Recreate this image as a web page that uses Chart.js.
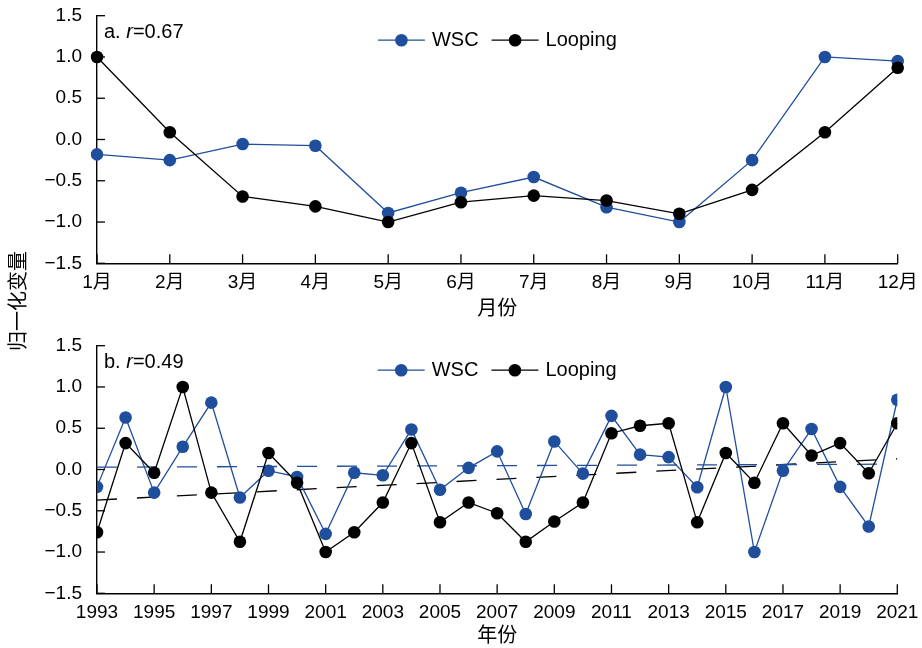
<!DOCTYPE html>
<html>
<head>
<meta charset="utf-8">
<script src="https://cdn.jsdelivr.net/npm/chart.js@4"></script>
<style>
  html, body { margin: 0; padding: 0; background: #fff; }
  #wrap { position: relative; width: 922px; height: 648px; overflow: hidden; }
  #top, #bottom { position: absolute; left: 0; }
  #top { top: 0; }
  #bottom { top: 324px; }
  #ylab {
    position: absolute; left: -42px; top: 289px; width: 120px; height: 24px;
    line-height: 24px; text-align: center; font-size: 20px; color: #000;
    font-family: "Liberation Sans", "Noto Sans CJK SC", sans-serif;
    transform: rotate(-90deg);
  }
</style>
</head>
<body>
<div id="wrap">
  <canvas id="top" width="922" height="324"></canvas>
  <canvas id="bottom" width="922" height="324"></canvas>
  <div id="ylab">归一化变量</div>
</div>
<script>
// panel a: monthly
const months = ['1月', '2月', '3月', '4月', '5月', '6月', '7月', '8月', '9月', '10月', '11月', '12月'];
const wscMonthly = [-0.18, -0.25, -0.055, -0.075, -0.89, -0.645, -0.455, -0.82, -1.0, -0.25, 1.0, 0.95];
const loopingMonthly = [1.0, 0.087, -0.69, -0.81, -1.0, -0.76, -0.68, -0.74, -0.9, -0.61, 0.087, 0.87];

// panel b: yearly
const years = [1993, 1994, 1995, 1996, 1997, 1998, 1999, 2000, 2001, 2002, 2003, 2004, 2005, 2006, 2007,
  2008, 2009, 2010, 2011, 2012, 2013, 2014, 2015, 2016, 2017, 2018, 2019, 2020, 2021];
const wscYearly = [-0.21, 0.63, -0.28, 0.275, 0.81, -0.34, -0.015, -0.09, -0.78, -0.04, -0.07, 0.485, -0.245, 0.02, 0.22,
  -0.54, 0.34, -0.05, 0.65, 0.18, 0.15, -0.215, 1.0, -1.0, -0.015, 0.49, -0.21, -0.69, 0.845];
const loopingYearly = [-0.76, 0.32, -0.04, 1.0, -0.28, -0.876, 0.2, -0.16, -1.0, -0.76, -0.4, 0.32, -0.64, -0.4, -0.53,
  -0.876, -0.63, -0.4, 0.44, 0.53, 0.56, -0.64, 0.2, -0.16, 0.56, 0.17, 0.32, -0.045, 0.56];

// linear trends (end points)
const trendYears = [1993, 2021];
const wscTrend = [0.028, 0.065];
const loopingTrend = [-0.37, 0.13];

const BLUE = '#1f4e9c';
const BLACK = '#000000';
const FONT = '"Liberation Sans", "Noto Sans CJK SC", sans-serif';

Chart.defaults.font.family = FONT;
Chart.defaults.color = '#000';

// inward tick marks on both axes
const inwardTicks = {
  id: 'inwardTicks',
  afterDatasetsDraw(chart) {
    const ctx = chart.ctx;
    const { x, y } = chart.scales;
    ctx.save();
    ctx.strokeStyle = '#000';
    ctx.lineWidth = 1.3;
    y.ticks.forEach((t, i) => {
      const py = y.getPixelForTick(i);
      ctx.beginPath(); ctx.moveTo(y.right, py); ctx.lineTo(y.right + 8, py); ctx.stroke();
    });
    x.ticks.forEach((t, i) => {
      const px = x.getPixelForTick(i);
      ctx.beginPath(); ctx.moveTo(px, x.top); ctx.lineTo(px, x.top - 9); ctx.stroke();
    });
    ctx.restore();
  }
};

// legend: line with a dot, then the series name, centred near the top of the plot
const lineLegend = {
  id: 'lineLegend',
  afterDatasetsDraw(chart) {
    const ctx = chart.ctx;
    const area = chart.chartArea;
    const sets = chart.data.datasets.slice(0, 2);
    const lineLen = 47, gap = 7, between = 13;
    ctx.save();
    ctx.font = '20px ' + FONT;
    const widths = sets.map(d => lineLen + gap + ctx.measureText(d.label).width);
    const total = widths.reduce((a, b) => a + b, 0) + between * (sets.length - 1);
    let x = (area.left + area.right) / 2 - total / 2;
    const y = area.top + 24.5;
    sets.forEach((d, i) => {
      ctx.strokeStyle = d.borderColor;
      ctx.lineWidth = 1.3;
      ctx.beginPath(); ctx.moveTo(x, y); ctx.lineTo(x + lineLen, y); ctx.stroke();
      ctx.fillStyle = d.borderColor;
      ctx.beginPath(); ctx.arc(x + lineLen / 2, y, 6.3, 0, Math.PI * 2); ctx.fill();
      ctx.fillStyle = '#000';
      ctx.textBaseline = 'middle';
      ctx.fillText(d.label, x + lineLen + gap, y);
      x += widths[i] + between;
    });
    ctx.restore();
  }
};

// panel label, e.g. "a. r=0.67" with italic r
const panelLabel = {
  id: 'panelLabel',
  afterDraw(chart, args, opts) {
    const ctx = chart.ctx;
    const area = chart.chartArea;
    let px = area.left + 7;
    const py = area.top + 16.5;
    ctx.save();
    ctx.fillStyle = '#000';
    ctx.textBaseline = 'middle';
    ctx.font = '20px ' + FONT;
    ctx.fillText(opts.prefix, px, py);
    px += ctx.measureText(opts.prefix).width;
    ctx.font = 'italic 20px ' + FONT;
    ctx.fillText('r', px, py);
    px += ctx.measureText('r').width;
    ctx.font = '20px ' + FONT;
    ctx.fillText('=' + opts.value, px, py);
    ctx.restore();
  }
};

function lineSet(label, data, color, order) {
  return {
    label: label,
    data: data,
    borderColor: color,
    backgroundColor: color,
    borderWidth: 1.3,
    pointRadius: 6.3,
    pointBorderWidth: 0,
    pointBackgroundColor: color,
    tension: 0,
    order: order
  };
}

function yAxis() {
  return {
    min: -1.5, max: 1.5,
    grid: { display: false, drawTicks: false },
    border: { display: true, color: '#000', width: 1.4 },
    ticks: {
      stepSize: 0.5,
      padding: 15,
      font: { size: 19 },
      callback: v => (v < 0 ? '\u2212' : '') + Math.abs(v).toFixed(1)
    },
    afterFit(scale) {
      scale.width = 97;
      scale.paddingTop = 0;
      scale.paddingBottom = 0;
    }
  };
}

function xFit(h) {
  return function (scale) {
    scale.height = h;
    scale.paddingLeft = 0;
    scale.paddingRight = 0;
  };
}

new Chart(document.getElementById('top'), {
  type: 'line',
  data: {
    labels: months,
    datasets: [
      lineSet('WSC', wscMonthly, BLUE, 1),
      lineSet('Looping', loopingMonthly, BLACK, 0)
    ]
  },
  options: {
    responsive: false,
    animation: false,
    layout: { padding: { top: 15.7, right: 24.3, left: 0, bottom: 0 } },
    scales: {
      x: {
        grid: { display: false, drawTicks: false },
        border: { display: true, color: '#000', width: 1.4 },
        ticks: { padding: 8, font: { size: 19 }, autoSkip: false, maxRotation: 0 },
        title: { display: true, text: '月份', font: { size: 20 }, padding: { top: 0, bottom: 3 } },
        afterFit: xFit(60.7)
      },
      y: yAxis()
    },
    plugins: {
      legend: { display: false },
      tooltip: { enabled: false },
      panelLabel: { prefix: 'a. ', value: '0.67' }
    }
  },
  plugins: [inwardTicks, lineLegend, panelLabel]
});

function pts(xs, ys) {
  return xs.map((x, i) => ({ x: x, y: ys[i] }));
}

function trendSet(label, data, color) {
  return {
    label: label,
    data: data,
    borderColor: color,
    borderWidth: 1.3,
    borderDash: [20, 20],
    pointRadius: 0,
    tension: 0,
    order: 5
  };
}

new Chart(document.getElementById('bottom'), {
  type: 'line',
  data: {
    datasets: [
      lineSet('WSC', pts(years, wscYearly), BLUE, 1),
      lineSet('Looping', pts(years, loopingYearly), BLACK, 0),
      trendSet('WSC trend', pts(trendYears, wscTrend), BLUE),
      trendSet('Looping trend', pts(trendYears, loopingTrend), BLACK)
    ]
  },
  options: {
    responsive: false,
    animation: false,
    layout: { padding: { top: 21.7, right: 24.7, left: 0, bottom: 0 } },
    scales: {
      x: {
        type: 'linear',
        min: 1993, max: 2021,
        grid: { display: false, drawTicks: false },
        border: { display: true, color: '#000', width: 1.4 },
        ticks: { stepSize: 2, padding: 8, font: { size: 19 }, maxRotation: 0, callback: v => String(v) },
        title: { display: true, text: '年份', font: { size: 20 }, padding: { top: 0, bottom: 0 } },
        afterFit: xFit(54.7)
      },
      y: yAxis()
    },
    plugins: {
      legend: { display: false },
      tooltip: { enabled: false },
      panelLabel: { prefix: 'b. ', value: '0.49' }
    }
  },
  plugins: [inwardTicks, lineLegend, panelLabel]
});
</script>
</body>
</html>
